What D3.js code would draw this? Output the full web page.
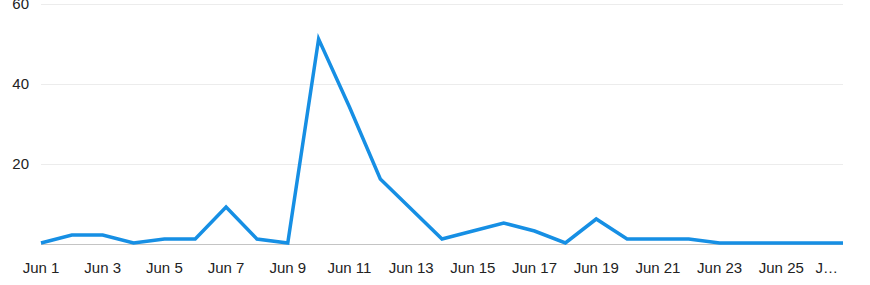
<!DOCTYPE html>
<html>
<head>
<meta charset="utf-8">
<script src="https://cdn.jsdelivr.net/npm/d3@7"></script>
<style>
  body { margin: 0; background: #fff; }
  svg text { font-family: "Liberation Sans", Arial, sans-serif; font-size: 15px; fill: #222; }
</style>
</head>
<body>
<svg id="chart"></svg>
<script>
const days = d3.range(1, 28).map((d) => `Jun ${d}`);
const counts = [0, 2, 2, 0, 1, 1, 9, 1, 0, 51, 34, 16, 8.5, 1, 3, 5, 3, 0, 6, 1, 1, 1, 0, 0, 0, 0, 0];
const yTicks = [20, 40, 60];

const width = 870;
const height = 285;
const margin = { top: 4, right: 27, bottom: 41, left: 41 };

const svg = d3.select("#chart").attr("width", width).attr("height", height);

const x = d3
  .scalePoint()
  .domain(days)
  .range([margin.left, width - margin.right]);

const y = d3
  .scaleLinear()
  .domain([0, 60])
  .range([height - margin.bottom, margin.top]);

// grid lines
svg
  .append("g")
  .selectAll("line")
  .data(yTicks)
  .join("line")
  .attr("x1", margin.left)
  .attr("x2", width - margin.right)
  .attr("y1", (d) => y(d) + 0.5)
  .attr("y2", (d) => y(d) + 0.5)
  .attr("stroke", "#ececec");

// y labels
svg
  .append("g")
  .selectAll("text")
  .data(yTicks)
  .join("text")
  .attr("x", 29)
  .attr("y", (d) => y(d) + 5)
  .attr("text-anchor", "end")
  .text((d) => d);

// baseline
svg
  .append("line")
  .attr("x1", margin.left)
  .attr("x2", width - margin.right)
  .attr("y1", y(0) + 0.5)
  .attr("y2", y(0) + 0.5)
  .attr("stroke", "#c4c4c4");

// x labels, every other day; the last one is cut short
const xLabels = days.filter((d, i) => i % 2 === 0);
const last = xLabels.length - 1;
svg
  .append("g")
  .selectAll("text")
  .data(xLabels)
  .join("text")
  .attr("x", (d, i) => (i === last ? x(d) - 5 : x(d)))
  .attr("y", 273)
  .attr("text-anchor", (d, i) => (i === last ? "end" : "middle"))
  .text((d, i) => (i === last ? "J\u2026" : d));

const line = d3
  .line()
  .x((d, i) => x(days[i]))
  .y((d) => y(d) - 1);

svg
  .append("path")
  .datum(counts)
  .attr("fill", "none")
  .attr("stroke", "#168fe4")
  .attr("stroke-width", 3.5)
  .attr("stroke-linejoin", "miter")
  .attr("d", line);
</script>
</body>
</html>
